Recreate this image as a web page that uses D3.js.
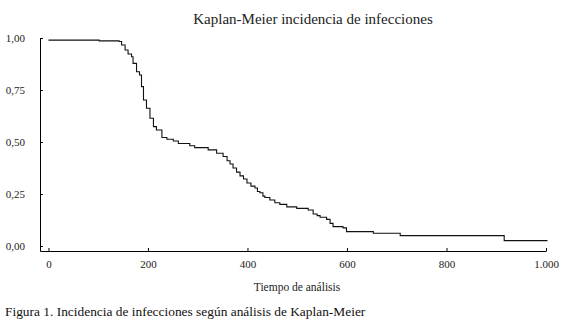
<!DOCTYPE html>
<html>
<head>
<meta charset="utf-8">
<script src="https://cdn.jsdelivr.net/npm/d3@7"></script>
<style>
    body { margin: 0; background: #fff; }
    svg { font-family: "Liberation Serif", "DejaVu Serif", serif; }
    .axis path, .axis line { stroke: #000; stroke-width: 1; }
    .axis text { font-size: 11px; fill: #222; font-family: "Liberation Serif", serif; }
    .curve { fill: none; stroke: #111; stroke-width: 1.1; }
</style>
</head>
<body>
<svg class="km" width="564" height="327"></svg>
<script>
// Kaplan-Meier step points: time where the step starts, survival from that time on
const times = [0, 102, 142, 147, 154, 160, 167, 170, 177, 183, 187, 191, 197, 204, 211, 217,
    228, 238, 251, 261, 284, 294, 321, 338, 351, 359, 365, 371, 378, 385, 392, 399, 407,
    415, 420, 425, 431, 435, 445, 455, 465, 479, 499, 522, 532, 540, 546, 559, 566, 572,
    592, 599, 653, 707, 916];
const survival = [0.990, 0.986, 0.983, 0.966, 0.942, 0.923, 0.910, 0.878, 0.838, 0.822,
    0.766, 0.702, 0.662, 0.614, 0.574, 0.558, 0.522, 0.513, 0.505, 0.493, 0.482, 0.473,
    0.462, 0.446, 0.430, 0.410, 0.394, 0.375, 0.355, 0.337, 0.322, 0.303, 0.288, 0.279,
    0.262, 0.256, 0.240, 0.233, 0.221, 0.208, 0.200, 0.188, 0.181, 0.173, 0.154, 0.146,
    0.138, 0.128, 0.109, 0.093, 0.087, 0.069, 0.061, 0.050, 0.026];
const endTime = 1003;

const xTicks = [0, 200, 400, 600, 800, 1000];
const yTicks = [0, 0.25, 0.5, 0.75, 1];

const title = "Kaplan-Meier incidencia de infecciones";
const xLabel = "Tiempo de análisis";
const caption = "Figura 1. Incidencia de infecciones según análisis de Kaplan-Meier";

function drawKM() {
    const svg = d3.select("svg.km");
    const margin = { top: 38, right: 18, bottom: 76, left: 40 };
    const width = +svg.attr("width") - margin.left - margin.right;
    const height = +svg.attr("height") - margin.top - margin.bottom;

    const es = d3.formatLocale({ decimal: ",", thousands: ".", grouping: [3], currency: ["", "€"] });

    const x = d3.scaleLinear()
        .domain([-17, 1000])
        .range([0, width]);

    const y = d3.scaleLinear()
        .domain([-0.024, 1])
        .range([height, 0]);

    const xAxis = d3.axisBottom(x)
        .tickValues(xTicks)
        .tickSize(-3)
        .tickSizeOuter(0)
        .tickPadding(9)
        .tickFormat(es.format(",.0f"));

    const yAxis = d3.axisLeft(y)
        .tickValues(yTicks)
        .tickSize(-3)
        .tickSizeOuter(0)
        .tickPadding(15)
        .tickFormat(es.format(".2f"));

    const g = svg.append("g")
        .attr("transform", `translate(${margin.left}, ${margin.top})`);

    g.append("g")
        .attr("class", "x axis")
        .attr("transform", `translate(0, ${height})`)
        .call(xAxis);

    g.append("g")
        .attr("class", "y axis")
        .call(yAxis);

    const steps = times.map((t, i) => ({ t: t, s: survival[i] }));
    steps.push({ t: endTime, s: survival[survival.length - 1] });

    const line = d3.line()
        .x(d => x(d.t))
        .y(d => y(d.s))
        .curve(d3.curveStepAfter);

    g.append("path")
        .datum(steps)
        .attr("class", "curve")
        .attr("d", line);

    svg.append("text")
        .attr("x", 313)
        .attr("y", 24)
        .attr("text-anchor", "middle")
        .style("font-size", "15px")
        .style("fill", "#222")
        .text(title);

    svg.append("text")
        .attr("x", 297)
        .attr("y", 291)
        .attr("text-anchor", "middle")
        .style("font-size", "11.5px")
        .style("fill", "#222")
        .text(xLabel);

    svg.append("text")
        .attr("x", 5)
        .attr("y", 316)
        .style("font-size", "13.4px")
        .style("fill", "#111")
        .text(caption);
}

drawKM();
</script>
</body>
</html>
